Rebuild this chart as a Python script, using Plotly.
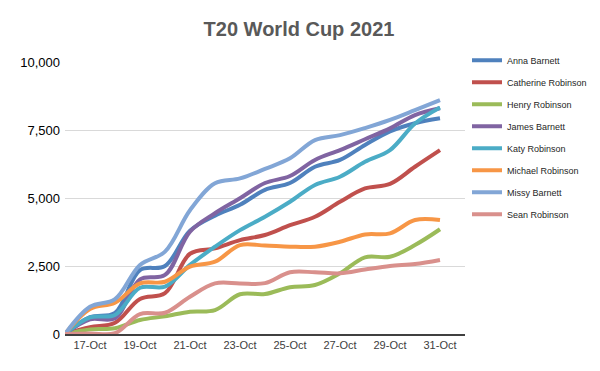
import plotly.graph_objects as go

dates = ["2021-10-%02d" % d for d in range(16, 32)]

series_names = ["Anna Barnett", "Catherine Robinson", "Henry Robinson", "James Barnett",
                "Katy Robinson", "Michael Robinson", "Missy Barnett", "Sean Robinson"]

anna = [0, 620, 780, 2350, 2500, 3800, 4350, 4750, 5300, 5550, 6150, 6400, 6950, 7450, 7750, 7930]
catherine = [0, 250, 415, 1290, 1500, 2950, 3150, 3450, 3640, 4000, 4310, 4860, 5350, 5520, 6150, 6760]
henry = [0, 170, 210, 515, 650, 820, 880, 1460, 1470, 1720, 1800, 2230, 2820, 2840, 3270, 3850]
james = [0, 540, 580, 2010, 2170, 3760, 4440, 4990, 5550, 5810, 6400, 6760, 7160, 7560, 8050, 8300]
katy = [0, 610, 700, 1700, 1740, 2540, 3210, 3820, 4310, 4860, 5480, 5780, 6330, 6760, 7740, 8330]
michael = [0, 920, 1150, 1860, 1920, 2480, 2660, 3270, 3250, 3210, 3210, 3390, 3660, 3700, 4190, 4190]
missy = [0, 1000, 1280, 2540, 3030, 4550, 5540, 5720, 6070, 6460, 7130, 7310, 7570, 7870, 8230, 8600]
sean = [0, 20, 30, 735, 780, 1370, 1860, 1860, 1870, 2270, 2270, 2230, 2370, 2500, 2570, 2720]

values = [anna, catherine, henry, james, katy, michael, missy, sean]
colors = ["#4F81BD", "#C0504D", "#9BBB59", "#8064A2", "#4BACC6", "#F79646", "#82A6D6", "#D9908C"]

y_ticks = [0, 2500, 5000, 7500, 10000]
x_ticks = ["2021-10-%02d" % d for d in range(17, 32, 2)]
x_labels = ["%d-Oct" % d for d in range(17, 32, 2)]

fig = go.Figure()
for name, vals, col in zip(series_names, values, colors):
    fig.add_trace(go.Scatter(
        x=dates, y=vals, name=name, mode="lines",
        line=dict(color=col, width=4, shape="spline", smoothing=1.0),
        legendgroup=name,
    ))

fig.update_layout(
    width=584, height=355,
    margin=dict(l=57, r=127, t=54, b=29, autoexpand=False),
    paper_bgcolor="white", plot_bgcolor="white",
    font=dict(family="Liberation Sans, Arial, sans-serif", color="#404040"),
    title=dict(text="<b>T20 World Cup 2021</b>", x=291 / 584, xanchor="center",
               y=1 - 21 / 355, yanchor="middle", yref="container",
               font=dict(size=20, color="#595959")),
    showlegend=True,
    legend=dict(x=1.005, xanchor="left", y=1.06, yanchor="top",
                font=dict(size=9, color="#262626"),
                traceorder="grouped", tracegroupgap=3,
                itemwidth=30, bgcolor="rgba(0,0,0,0)",
                maxheight=400),
    xaxis=dict(
        type="date", range=["2021-10-16", "2021-11-01"],
        tickvals=x_ticks, ticktext=x_labels,
        tickfont=dict(size=11, color="#404040"),
        showgrid=False, showline=True, linecolor="#404040", linewidth=1.5,
        ticks="", zeroline=False,
    ),
    yaxis=dict(
        range=[0, 10000], tickvals=y_ticks, tickformat=",",
        tickfont=dict(size=13, color="#000000"),
        ticklabelstandoff=4,
        showgrid=True, gridcolor="#D9D9D9", gridwidth=1,
        showline=False, zeroline=False, ticks="",
    ),
)

fig.write_html("out.html")
